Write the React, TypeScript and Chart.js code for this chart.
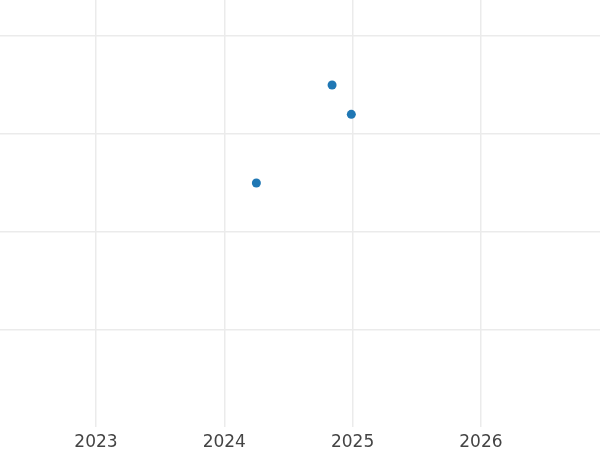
import React, { useEffect, useRef } from "react";
import { Chart, registerables } from "chart.js";

Chart.register(...registerables);

const xValues = [2024.25, 2024.84, 2024.99];
const yValues = [2.5, 3.5, 3.2];
const xTicks = [2023, 2024, 2025, 2026];
const yTicks = [1, 2, 3, 4];

export default function App() {
  const ref = useRef<HTMLCanvasElement | null>(null);

  useEffect(() => {
    document.body.style.margin = "0";
    const ctx = ref.current;
    if (!ctx) return;
    const chart = new Chart(ctx, {
      type: "scatter",
      data: {
        datasets: [
          {
            data: xValues.map((x, i) => ({ x, y: yValues[i] })),
            backgroundColor: "#1f77b4",
            borderColor: "#1f77b4",
            pointRadius: 4.5,
            borderWidth: 0,
          },
        ],
      },
      options: {
        animation: false,
        responsive: false,
        maintainAspectRatio: false,
        layout: { padding: 0, autoPadding: false },
        plugins: { legend: { display: false }, tooltip: { enabled: false } },
        scales: {
          x: {
            type: "linear",
            min: 2022.252,
            max: 2026.928,
            afterBuildTicks: (s: any) => {
              s.ticks = xTicks.map((v) => ({ value: v }));
            },
            afterFit: (s: any) => {
              s.height = 23;
            },
            border: { display: false },
            grid: { color: "#ebebeb", lineWidth: 1.5, drawTicks: false },
            ticks: {
              color: "#444",
              padding: 5,
              font: { family: "DejaVu Sans", size: 17 },
              callback: (v: any) => String(v),
            },
          },
          y: {
            type: "linear",
            min: 0.01,
            max: 4.367,
            afterBuildTicks: (s: any) => {
              s.ticks = yTicks.map((v) => ({ value: v }));
            },
            afterFit: (s: any) => {
              s.width = 0;
            },
            border: { display: false },
            grid: { color: "#ebebeb", lineWidth: 1.5, drawTicks: false },
            ticks: { display: false },
          },
        },
      },
    });
    return () => chart.destroy();
  }, []);

  return (
    <div style={{ position: "fixed", left: 0, top: 0, width: 600, height: 450 }}>
      <canvas ref={ref} width={600} height={450} style={{ width: 600, height: 450 }} />
    </div>
  );
}
